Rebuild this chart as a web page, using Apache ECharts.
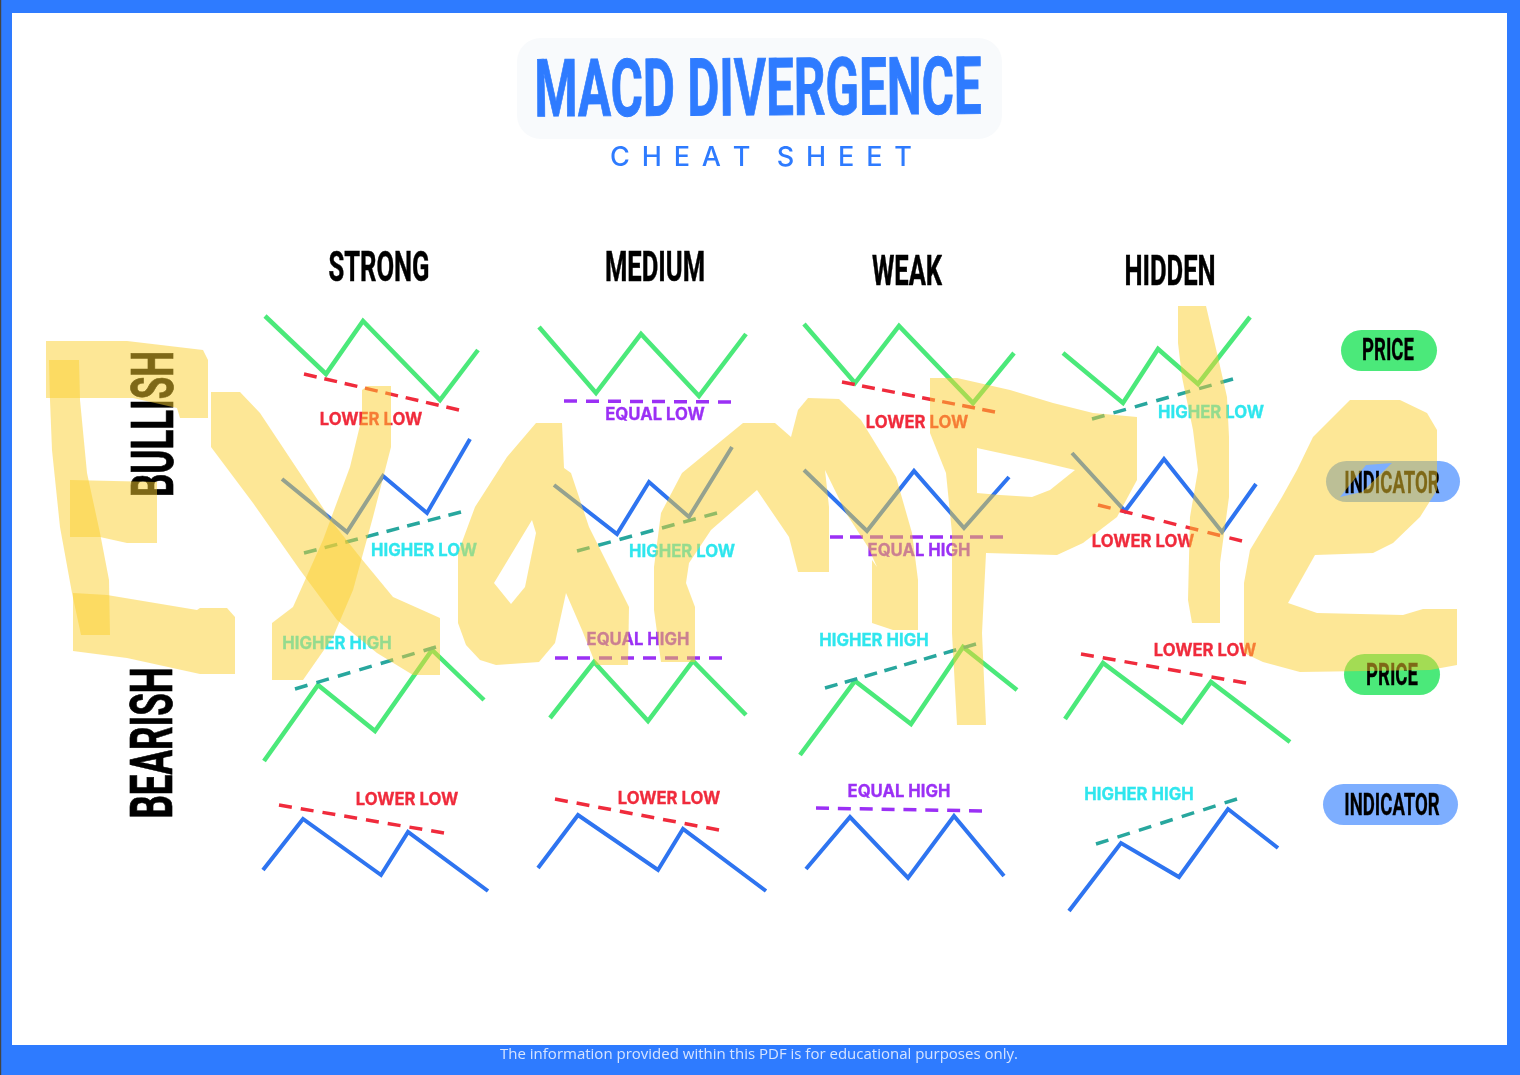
<!DOCTYPE html>
<html><head><meta charset="utf-8">
<style>html,body{margin:0;padding:0;background:#fff}#c{width:1520px;height:1075px}</style>
<script src="https://cdn.jsdelivr.net/npm/echarts@6/dist/echarts.min.js"></script>
</head><body><div id="c"></div>
<script>
// ---- values (page units on hidden axes) ----
const priceBullStrong=[[265,316],[326,374],[363,321],[440,400],[478,350]];
const priceBullMedium=[[539,327],[596,393],[641,334],[699,396],[746,334]];
const priceBullWeak=[[804,324],[855,383],[899,326],[973,403],[1014,353]];
const priceBullHidden=[[1063,353],[1123,403],[1158,349],[1198,384],[1250,317]];
const macdBullStrong=[[282,479],[347,532],[383,476],[427,513],[470,439]];
const macdBullMedium=[[554,485],[617,534],[649,482],[689,517],[732,447]];
const macdBullWeak=[[804,470],[867,531],[914,471],[964,528],[1009,477]];
const macdBullHidden=[[1072,453],[1125,511],[1164,459],[1222,532],[1256,484]];
const priceBearStrong=[[264,761],[318,685],[375,731],[432,650],[484,700]];
const priceBearMedium=[[550,718],[594,662],[648,721],[693,661],[746,715]];
const priceBearWeak=[[800,755],[855,681],[911,724],[963,647],[1017,690]];
const priceBearHidden=[[1065,719],[1103,663],[1182,722],[1211,682],[1290,742]];
const macdBearStrong=[[263,870],[303,819],[381,875],[408,832],[488,891]];
const macdBearMedium=[[538,868],[578,815],[658,870],[683,829],[766,891]];
const macdBearWeak=[[806,869],[850,817],[908,878],[954,816],[1004,876]];
const macdBearHidden=[[1069,911],[1121,843],[1179,877],[1228,809],[1278,848]];

const redTrends=[[[304,374],[459,410]],[[842,382],[995,412]],[[1098,505],[1242,541]],[[1081,654],[1246,683]],[[279,805],[444,833]],[[555,799],[719,830]]];
const purpleTrends=[[[564,401],[731,402]],[[830,537],[1003,537]],[[555,658],[722,658]],[[816,808],[982,811]]];
const tealTrends=[[[1092,419],[1233,379]],[[304,553],[461,512]],[[577,551],[717,513]],[[295,689],[436,647]],[[825,688],[976,644]],[[1096,844],[1237,799]]];

const redTexts=['LOWER LOW','LOWER LOW','LOWER LOW','LOWER LOW','LOWER LOW','LOWER LOW'];
const redAnchors=[[371,420],[917,423],[1143,542],[1205,651],[407,800],[669,799]];
const purpleTexts=['EQUAL LOW','EQUAL HIGH','EQUAL HIGH','EQUAL HIGH'];
const purpleAnchors=[[655,415],[919,551],[638,640],[899,792]];
const cyanTexts=['HIGHER LOW','HIGHER LOW','HIGHER LOW','HIGHER HIGH','HIGHER HIGH','HIGHER HIGH'];
const cyanAnchors=[[1211,413],[424,551],[682,552],[337,644],[874,641],[1139,795]];

const columnNames=['STRONG','MEDIUM','WEAK','HIDDEN'];
const columnAnchors=[[379,270],[655,270],[907,274],[1170,274]];
const rowNames=['BULLISH','BEARISH'];
const rowAnchors=[[158,424],[157,743]];
const legendNames=['PRICE','INDICATOR','PRICE','INDICATOR'];
const legendAnchors=[[1388,352],[1392,485],[1392,677],[1392,807]];
const pricePills=[[1341,330,1437,371],[1344,654,1440,695]];
const indicatorPills=[[1326,461,1460,502],[1323,784,1458,825]];

// watermark outlines ("Example" brush strokes)
const strokeE1=[[46,341],[127,341],[203,350],[208,360],[208,418],[180,418],[177,408],[133,398],[46,398]];
const strokeE2=[[49,360],[79,360],[80,400],[87,473],[100,533],[109,580],[110,635],[81,635],[72,593],[60,527],[52,450],[50,400]];
const strokeE3=[[70,480],[157,482],[157,543],[127,543],[100,537],[70,537]];
const strokeE4=[[73,593],[107,595],[197,610],[200,608],[227,608],[235,617],[235,674],[200,674],[127,658],[73,651]];
const strokeX1=[[211,392],[240,392],[260,413],[333,523],[360,557],[393,597],[440,618],[440,675],[413,675],[377,653],[337,620],[300,570],[253,503],[211,447]];
const strokeX2=[[362,390],[367,386],[391,386],[391,447],[373,517],[353,590],[333,637],[303,680],[272,680],[272,623],[293,607],[323,540],[350,467],[362,417]];
const strokeA=[[536,423],[562,423],[564,468],[571,473],[589,527],[629,607],[628,665],[596,665],[582,630],[566,593],[555,643],[539,662],[496,665],[480,660],[466,645],[458,623],[458,553],[475,507],[507,457]];
const holeA=[[532,520],[536,533],[525,587],[511,604],[494,583]];
const strokeM=[[654,610],[654,567],[661,513],[682,473],[743,423],[775,423],[791,437],[798,410],[808,398],[839,399],[861,420],[896,477],[912,533],[918,580],[918,630],[893,630],[872,623],[872,560],[877,567],[868,547],[846,513],[825,470],[829,507],[829,572],[798,572],[789,537],[757,490],[711,530],[689,563],[686,583],[695,607],[695,662],[661,662]];
const strokeP=[[930,378],[957,378],[1010,390],[1053,403],[1093,413],[1137,417],[1137,480],[1117,517],[1083,543],[1057,555],[986,553],[982,633],[986,725],[957,725],[952,633],[952,533],[946,473],[930,433]];
const holeP=[[977,448],[1000,453],[1033,460],[1075,470],[1050,490],[1032,497],[1000,495],[977,493]];
const strokeL=[[1178,306],[1206,306],[1217,353],[1227,397],[1229,437],[1229,497],[1220,563],[1220,623],[1192,623],[1188,600],[1190,517],[1198,470],[1193,430],[1182,377],[1178,343]];
const strokeE5=[[1244,583],[1250,550],[1282,497],[1297,470],[1313,437],[1350,400],[1400,400],[1427,413],[1437,430],[1437,490],[1420,517],[1393,543],[1373,553],[1315,555],[1288,603],[1317,613],[1403,615],[1423,609],[1457,609],[1457,665],[1430,670],[1300,672],[1263,662],[1244,653]];
const holeE5=[[1340,497],[1366,465],[1392,463],[1362,492]];

const BLUE='#2E7BFF',GREEN='#4BE97A',LINEBLUE='#2E74F0',RED='#F02B3C',PURPLE='#9B30F5',TEAL='#28A79E',CYAN='#2FE6EE';
const COND="'Liberation Sans Narrow','Roboto'",POP="'Inter','Open Sans'";

function area(p){let s=0;p.forEach((a,i)=>{const b=p[(i+1)%p.length];s+=a[0]*b[1]-b[0]*a[1];});return s;}
function withHole(o,h){
  const r=(area(o)>0)===(area(h)>0)?h.slice().reverse():h.slice();
  return o.concat([o[0]],r,[r[0],o[0]]);
}
const watermark=[strokeE1,strokeE2,strokeE3,strokeE4,strokeX1,strokeX2,withHole(strokeA,holeA),strokeM,withHole(strokeP,holeP),strokeL,withHole(strokeE5,holeE5)];

function dashFor(pts){
  const on=13,L=Math.hypot(pts[1][0]-pts[0][0],pts[1][1]-pts[0][1]);
  const n=Math.round((L-on)/21);
  return [on,(L-on)/n-on];
}
function polyline(pts,color,width,dash){
  return {type:'line',data:pts,showSymbol:false,symbol:'none',silent:true,animation:false,z:3,clip:false,
    lineStyle:{color,width,type:dash?dashFor(pts):'solid',join:'miter',cap:'butt'}};
}
function texts(list,anchors,font,fill,opt){
  opt=opt||{};
  return {type:'custom',silent:true,animation:false,z:4,clip:false,
    data:anchors.map((a,i)=>[a[0],a[1],i]),encode:{x:0,y:1},
    renderItem(p,api){
      const c=api.coord([api.value(0),api.value(1)]);
      return {type:'text',x:c[0],y:c[1],rotation:opt.rot||0,scaleX:opt.sx||1,scaleY:opt.sy||1,
        style:{text:list[api.value(2)],font,fill,align:'center',verticalAlign:'middle',
          stroke:opt.bold?fill:null,lineWidth:opt.bold||0}};
    }};
}
function pills(list,fill){
  return {type:'custom',silent:true,animation:false,z:2,clip:false,
    data:list.map(r=>[r[0],r[1],r[2],r[3]]),encode:{x:[0,2],y:[1,3]},
    renderItem(p,api){
      const a=api.coord([api.value(0),api.value(1)]),b=api.coord([api.value(2),api.value(3)]);
      return {type:'rect',shape:{x:a[0],y:a[1],width:b[0]-a[0],height:b[1]-a[1],r:(b[1]-a[1])/2},style:{fill}};
    }};
}
const series=[];
series.push(pills(pricePills,GREEN),pills(indicatorPills,'#7DAEFF'));
[priceBullStrong,priceBullMedium,priceBullWeak,priceBullHidden,priceBearStrong,priceBearMedium,priceBearWeak,priceBearHidden].forEach(p=>series.push(polyline(p,GREEN,4.5)));
[macdBullStrong,macdBullMedium,macdBullWeak,macdBullHidden,macdBearStrong,macdBearMedium,macdBearWeak,macdBearHidden].forEach(p=>series.push(polyline(p,LINEBLUE,4)));
redTrends.forEach(p=>series.push(polyline(p,RED,3.5,true)));
purpleTrends.forEach(p=>series.push(polyline(p,PURPLE,3.5,true)));
tealTrends.forEach(p=>series.push(polyline(p,TEAL,3.5,true)));
series.push(texts(redTexts,redAnchors,"700 16.7px "+POP,RED,{bold:0.3}));
series.push(texts(purpleTexts,purpleAnchors,"700 16.7px "+POP,PURPLE,{bold:0.3}));
series.push(texts(cyanTexts,cyanAnchors,"700 16.7px "+POP,CYAN,{bold:0.3}));
series.push(texts(columnNames,columnAnchors,"700 43px "+COND,'#000',{sx:0.595,bold:0.5}));
series.push(texts(rowNames,rowAnchors,"700 60px "+COND,'#000',{rot:Math.PI/2,sx:0.61,bold:0.7}));
series.push(texts(legendNames,legendAnchors,"700 32px "+COND,'#000',{sx:0.58,bold:0.3}));
series.push(texts(['MACD DIVERGENCE'],[[758,95]],"700 80px "+COND,BLUE,{rot:0.006,sx:0.617,bold:0.9}));
series.push(texts(['C\u2009 H\u2009 E\u2009 A\u2009 T\u2009   S\u2009 H\u2009 E\u2009 E\u2009 T'],[[761,158]],"500 27px "+POP,BLUE));
series.push(texts(['The information provided within this PDF is for educational purposes only.'],[[759,1055]],"400 15px 'Open Sans'",'#D6E4FF'));
series.push({type:'custom',silent:true,animation:false,z:10,clip:false,
  data:watermark.map((_,i)=>[0,0,i]),encode:{x:0,y:1},
  renderItem(p,api){
    return {type:'polygon',shape:{points:watermark[api.value(2)].map(q=>api.coord(q))},style:{fill:'rgba(252,208,45,0.5)'}};
  }});

const chart=echarts.init(document.getElementById('c'),null,{renderer:'canvas'});
chart.setOption({
  animation:false,
  backgroundColor:BLUE,
  grid:{left:0,top:0,right:0,bottom:0},
  xAxis:{type:'value',min:0,max:1520,show:false},
  yAxis:{type:'value',min:0,max:1075,inverse:true,show:false},
  graphic:{elements:[
    {type:'rect',z:0,shape:{x:12,y:13,width:1495,height:1032},style:{fill:'#fff'},silent:true},
    {type:'rect',z:0,shape:{x:0,y:0,width:1.2,height:1075},style:{fill:'#444'},silent:true},
    {type:'rect',z:1,shape:{x:517,y:38,width:485,height:101,r:24},style:{fill:'#F8FAFC'},silent:true}
  ]},
  series
});
</script></body></html>
